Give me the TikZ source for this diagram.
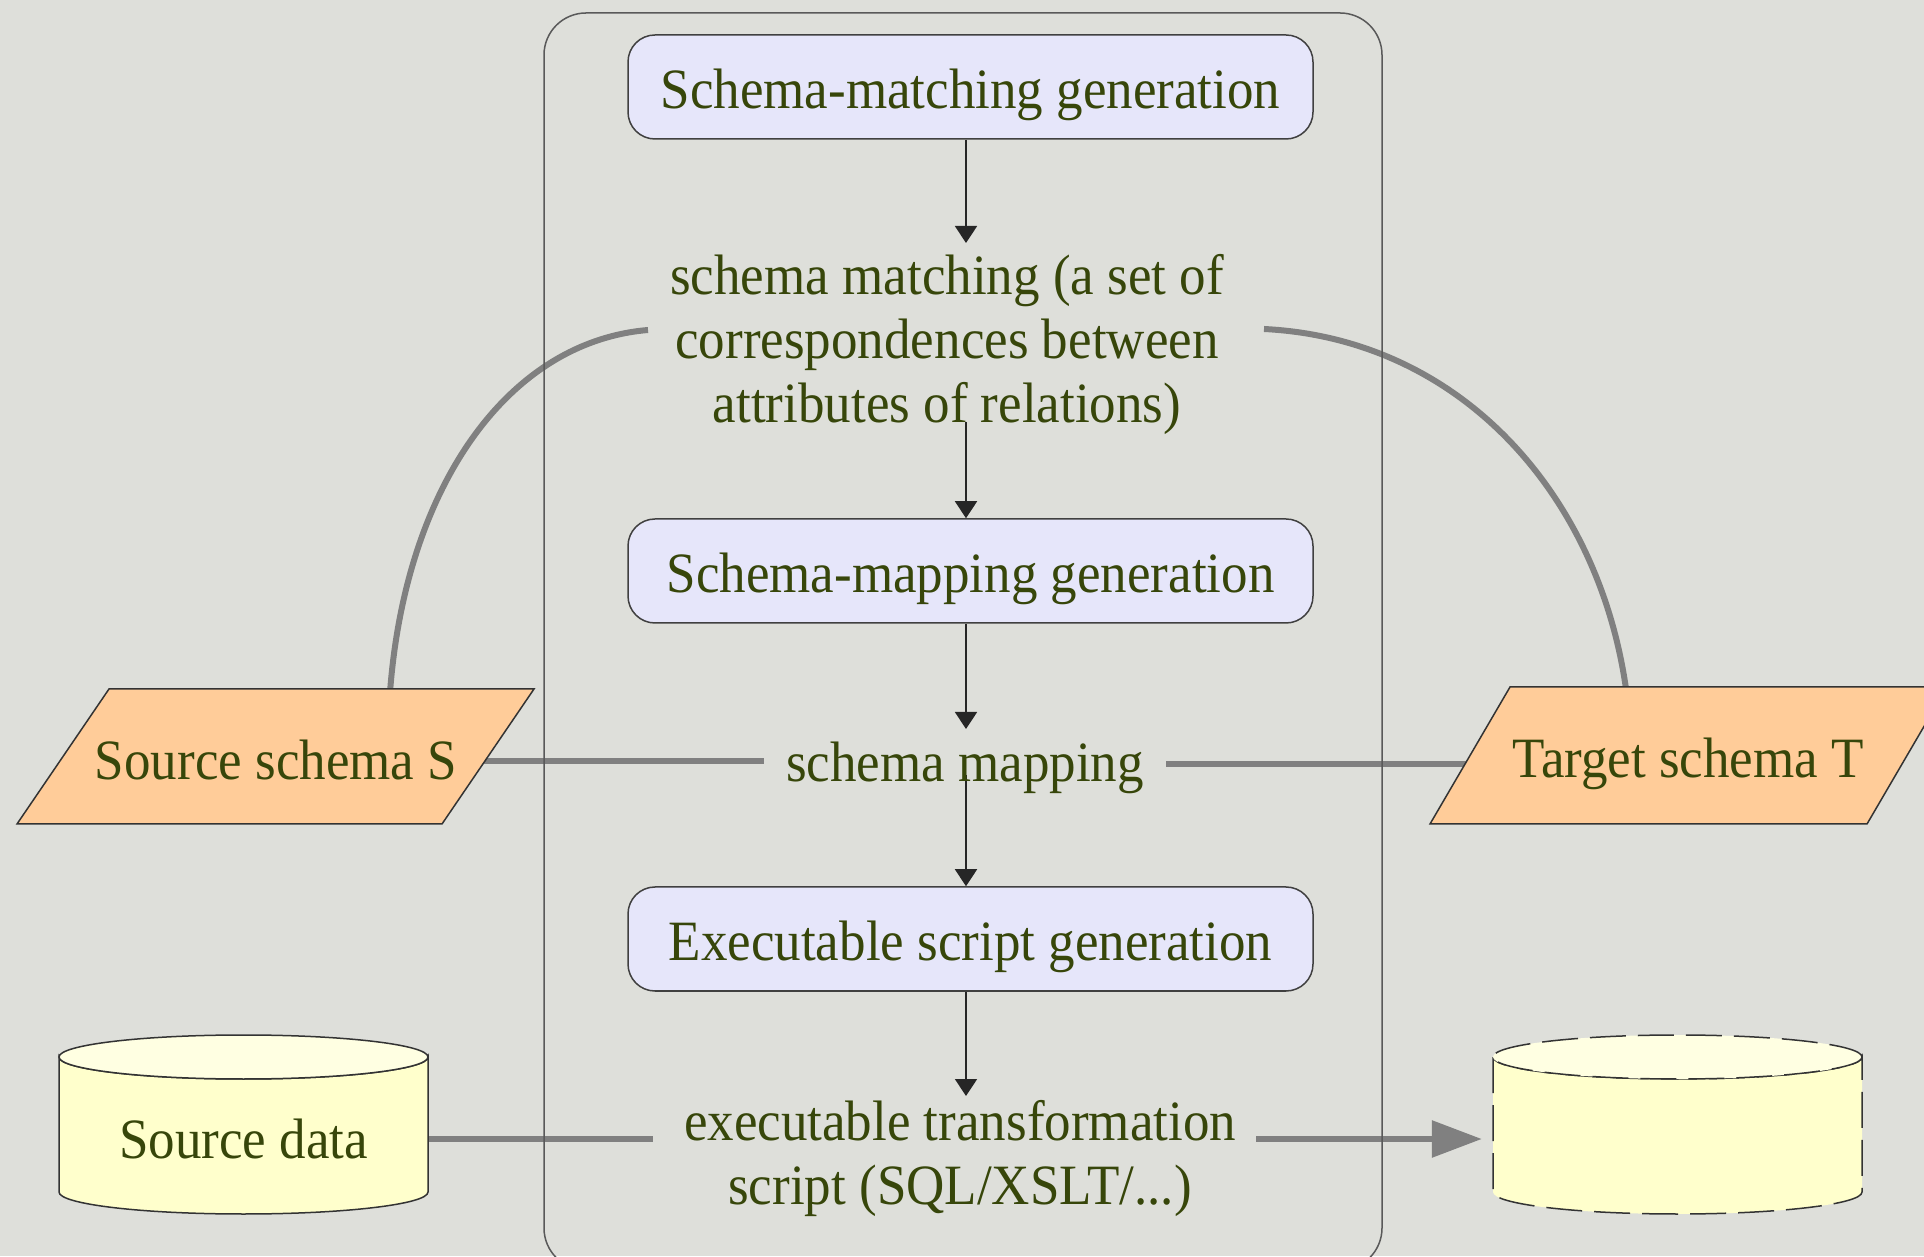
\documentclass[tikz,border=0pt]{standalone}
\usepackage{fontspec}
\setmainfont{Liberation Serif}[FakeStretch=0.93]
\usetikzlibrary{arrows.meta,calc}
\definecolor{bgc}{RGB}{222,223,218}
\definecolor{txt}{RGB}{55,70,10}
\definecolor{lav}{RGB}{230,230,250}
\definecolor{peach}{RGB}{255,204,153}
\definecolor{cylbody}{RGB}{255,255,204}
\definecolor{cyltop}{RGB}{255,255,226}
\definecolor{conng}{RGB}{128,128,128}
\pgfdeclarelayer{bgl}
\pgfdeclarelayer{lines}
\pgfsetlayers{bgl,lines,main}
\tikzset{
  lbl/.style={font=\fontsize{57pt}{64pt}\selectfont, text=txt, align=center, inner sep=0pt},
  procbox/.style={lbl, draw=black!75, line width=1.5pt, fill=lav, rounded corners=27pt,
    minimum width=685pt, minimum height=104pt, text height=56pt, text depth=12pt},
  arr/.style={draw=black!85, line width=1.8pt, -{Triangle[width=22pt,length=17pt]}},
  conn/.style={draw=conng, line width=6pt},
  bigarr/.style={conn, -{Triangle[width=36pt,length=50pt]}},
  paraf/.style={draw=black!80, line width=1.5pt, fill=peach},
  cylf/.style={draw=black!80, line width=1.5pt},
  frame/.style={draw=black!65, line width=1.5pt, rounded corners=42pt},
}
\begin{document}
\begin{tikzpicture}[x=1pt,y=1pt]
\useasboundingbox (0,0) rectangle (1924,1256);
\begin{pgfonlayer}{bgl}
  \fill[bgc] (0,0) rectangle (1924,1256);
\end{pgfonlayer}

% outer frame
\draw[frame] (544,-14) rectangle (1382,1243);

% process boxes
\node[procbox] (b1) at (970.5,1169) {Schema-matching generation};
\node[procbox] (b2) at (970.5,685) {Schema-mapping generation};
\node[procbox] (b3) at (970.5,317) {Executable script generation};

% intermediate texts
\node[lbl] (t1) at (947,911) {schema matching (a set of\\correspondences between\\attributes of relations)};
\node[lbl, inner xsep=22pt, anchor=base] (t2) at (965,474) {schema mapping};
\node[lbl] (t3) at (960,98) {executable transformation\\script (SQL/XSLT/...)};

% parallelograms
\draw[paraf] (17,432) -- (442,432) -- (534,567) -- (109,567) -- cycle;
\node[lbl, anchor=base] (src) at (276,476) {Source schema S};
\draw[paraf] (1430,432) -- (1867,432) -- (1947,569) -- (1510,569) -- cycle;
\node[lbl, anchor=base] (tgt) at (1688,478) {Target schema T};

% cylinders
\path[cylf, fill=cylbody] (59,199) -- (59,64) arc[start angle=180, end angle=360, x radius=184.5pt, y radius=22pt]
  -- (428,199) arc[start angle=0, end angle=-180, x radius=184.5pt, y radius=22pt] -- cycle;
\path[cylf, fill=cyltop] (243.5,199) ellipse[x radius=184.5pt, y radius=22pt];
\node[lbl, minimum width=369pt, minimum height=179pt] (sd) at (243.5,117) {Source data};

\path[cylf, fill=cylbody, dash pattern=on 36pt off 12pt] (1493,199) -- (1493,64) arc[start angle=180, end angle=360, x radius=184.5pt, y radius=22pt]
  -- (1862,199) arc[start angle=0, end angle=-180, x radius=184.5pt, y radius=22pt] -- cycle;
\path[cylf, fill=cyltop, dash pattern=on 36pt off 12pt] (1677.5,199) ellipse[x radius=184.5pt, y radius=22pt];
\node[lbl, minimum width=369pt, minimum height=179pt] (tc) at (1677.5,117) {};

% coordinates for arrow ends
\coordinate (m1) at (966,1013);
\coordinate (m2) at (966,834);
\coordinate (m3) at (966,527);
\coordinate (m4) at (966,481);
\coordinate (m5) at (966,160);
\coordinate (e1) at (653,117);
\coordinate (e2) at (1256,117);

\begin{pgfonlayer}{lines}
  \draw[arr] (m1 |- b1.south) -- (m1);
  \draw[arr] (m2) -- (m2 |- b2.north);
  \draw[arr] (m3 |- b2.south) -- (m3);
  \draw[arr] (m4) -- (m4 |- b3.north);
  \draw[arr] (m5 |- b3.south) -- (m5);

  \draw[conn] ([shift={(114,68)}]src.center) .. controls +(15,203) and +(-142,-12) .. ([shift={(-299,15)}]t1.center);
  \draw[conn] ([shift={(317,16)}]t1.center) .. controls +(200,-10) and +(-25,197) .. ([shift={(-61,68)}]tgt.center);

  \draw[conn] (src.east) -- (src.east -| t2.west);
  \draw[conn] (tgt.west -| t2.east) -- (tgt.west);

  \draw[conn] (sd.east) -- (e1);
  \draw[bigarr, shorten >=11pt] (e2) -- (tc.west);
\end{pgfonlayer}
\end{tikzpicture}
\end{document}
